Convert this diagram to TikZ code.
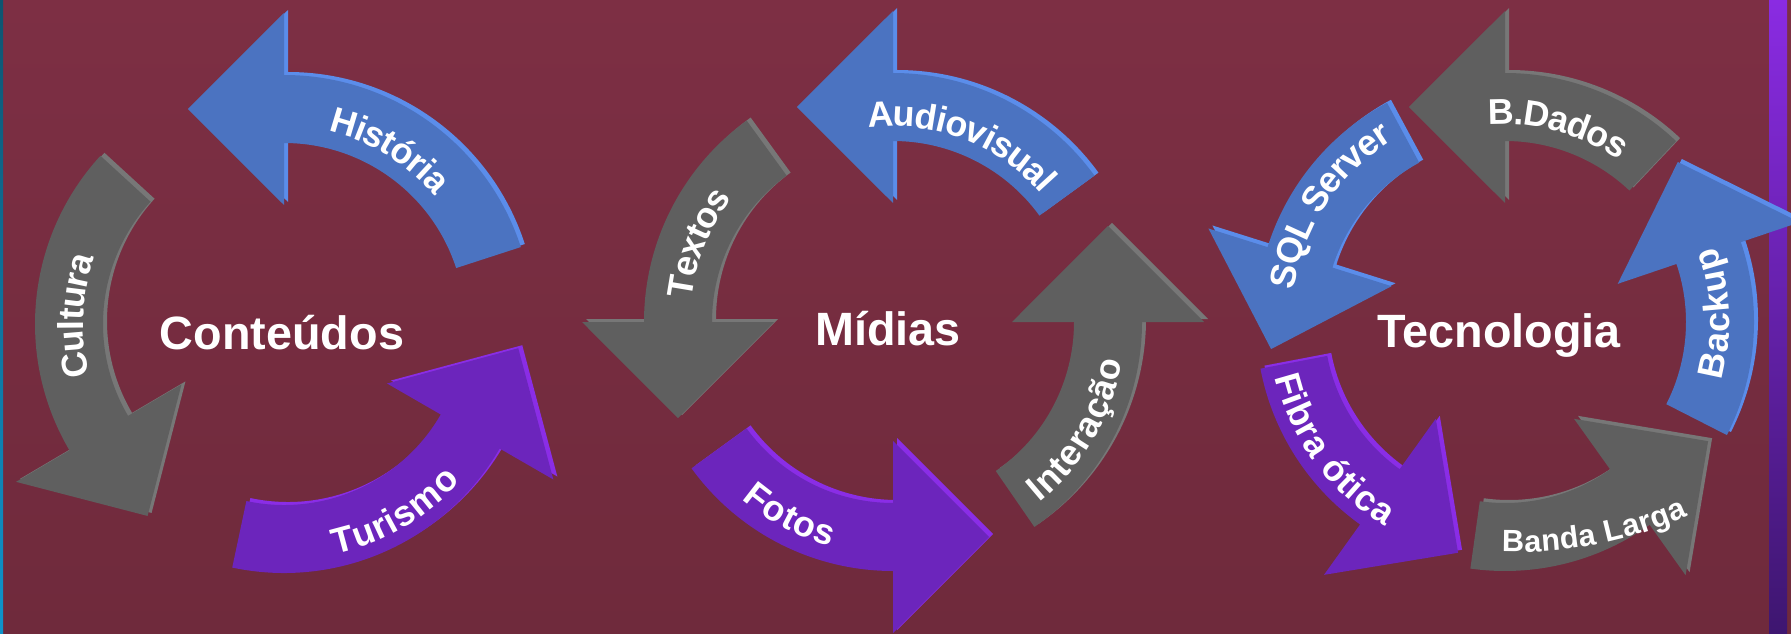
\documentclass[tikz,border=0pt]{standalone}
\usepackage{fontspec}
\setmainfont{Liberation Sans}
\usetikzlibrary{decorations.text}

\definecolor{bgtop}{HTML}{7D2F44}
\definecolor{bgmid}{HTML}{8A3449}
\definecolor{bgbot}{HTML}{6F2A3C}
\definecolor{edgetop}{HTML}{0E5470}
\definecolor{edgebot}{HTML}{0E94CC}
\definecolor{bartop}{HTML}{8A2BE2}
\definecolor{barbot}{HTML}{3E1670}
\definecolor{arrblue}{HTML}{4B73C1}
\definecolor{arrbluerim}{HTML}{5B8DEA}
\definecolor{arrgray}{HTML}{5F5F5F}
\definecolor{arrgrayrim}{HTML}{777777}
\definecolor{arrpurple}{HTML}{6C25BC}
\definecolor{arrpurplerim}{HTML}{8A2DE6}

\newcommand{\lblfont}{\fontsize{20.4}{24}\selectfont\bfseries}
\newcommand{\smallfont}{\fontsize{17.5}{21}\selectfont\bfseries}

\tikzset{
  hub/.style={text=white, inner sep=0pt, font=\fontsize{26.6}{30}\selectfont\bfseries},
  arclabel/.style={decorate, decoration={text along path, text align=center,
    text color=white, raise=-7pt, text={#1}}}
}

% arrow from tail angle #1 to head angle #2, round the scope origin
\newcommand{\cyclearrow}[3]{%
  \fill[#3rim, shift={(4,3)}] (#1:249) arc[start angle=#1, end angle=#2, radius=249]
    -- (#2:311) -- (#2+24.1:235.5) -- (#2:119) -- (#2:181)
    arc[start angle=#2, end angle=#1, radius=181] -- cycle;
  \fill[#3] (#1:249) arc[start angle=#1, end angle=#2, radius=249]
    -- (#2:311) -- (#2+24.1:235.5) -- (#2:119) -- (#2:181)
    arc[start angle=#2, end angle=#1, radius=181] -- cycle;
}
\newcommand{\cwlabel}[4][\lblfont]{%
  \path[arclabel={|#1|#4}]
    (#2+70:#3) arc[start angle=#2+70, end angle=#2-70, radius=#3];
}
\newcommand{\ccwlabel}[4][\lblfont]{%
  \path[arclabel={|#1|#4}]
    (#2-70:#3) arc[start angle=#2-70, end angle=#2+70, radius=#3];
}

\begin{document}
\begin{tikzpicture}[x=0.02cm, y=0.02cm]
  \useasboundingbox (0,0) rectangle (1791,633);
  \shade[top color=bgtop, middle color=bgmid, bottom color=bgbot] (0,0) rectangle (1791,633);
  \shade[top color=edgetop, bottom color=edgebot] (0,0) rectangle (3,633);
  \shade[top color=bartop, bottom color=barbot] (1769,0) rectangle (1787,633);

  \coordinate (C1) at (284,309);
  \coordinate (C2) at (893,311);
  \coordinate (C3) at (1505,311);

  \begin{scope}[shift={(C1)}]
    \cyclearrow{18}{90}{arrblue}
    \cyclearrow{137.5}{210.5}{arrgray}
    \cyclearrow{258}{330}{arrpurple}
    \cwlabel{58.6}{210}{História}
    \cwlabel{177.7}{213}{Cultura}
    \ccwlabel{300.4}{224}{Turismo}
  \end{scope}

  \begin{scope}[shift={(C2)}]
    \cyclearrow{36}{90}{arrblue}
    \cyclearrow{126}{180}{arrgray}
    \cyclearrow{216}{270}{arrpurple}
    \cyclearrow{304.6}{360}{arrgray}
    \cwlabel{69}{208}{Audiovisual}
    \cwlabel{158}{215}{Textos}
    \ccwlabel{242}{221}{Fotos}
    \ccwlabel{329.8}{220}{Interação}
  \end{scope}

  \begin{scope}[shift={(C3)}]
    \cyclearrow{46.6}{90}{arrgray}
    \cyclearrow{118.3}{162.5}{arrblue}
    \cyclearrow{190.8}{234.4}{arrpurple}
    \cyclearrow{262}{305.5}{arrgray}
    \cyclearrow{333}{378.7}{arrblue}
    \cwlabel{74.8}{210}{B.Dados}
    \cwlabel{146.5}{226}{SQL Server}
    \ccwlabel{216.5}{224}{Fibra ótica}
    \ccwlabel{2.2}{212}{Backup}
  \end{scope}
  \path[arclabel={|\smallfont|Banda Larga}]
    (1388,115) arc[start angle=251, end angle=311, radius=400];

  \node[hub, anchor=base] (conteudos) at (282,284) {Conteúdos};
  \node[hub, anchor=base] (midias) at (888,288) {Mídias};
  \node[hub, anchor=base] (tecnologia) at (1499,286) {Tecnologia};
\end{tikzpicture}
\end{document}
